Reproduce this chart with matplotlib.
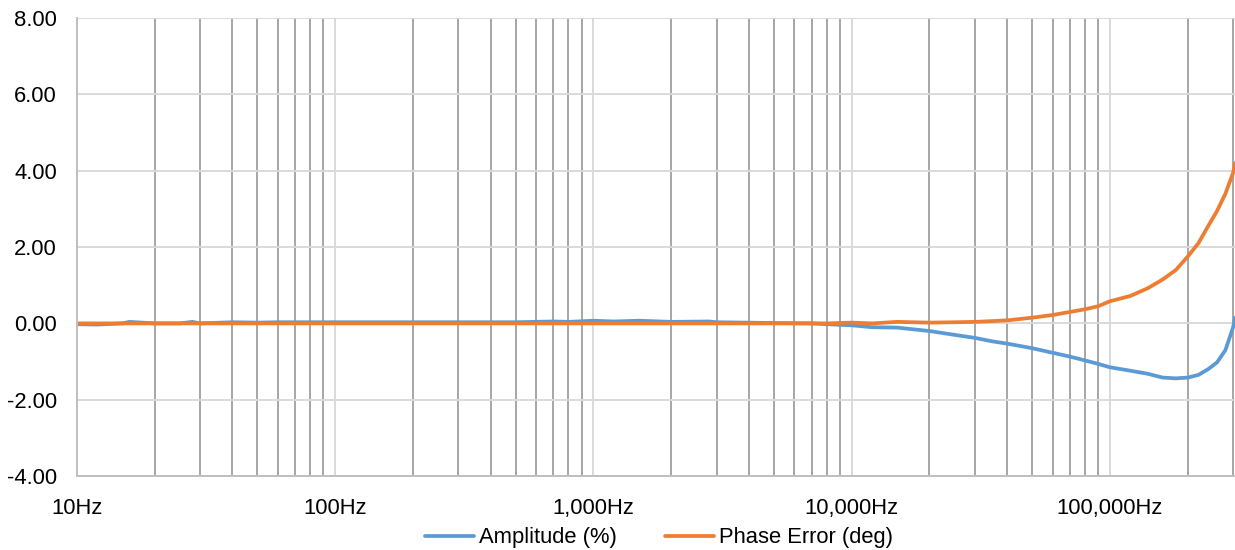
import matplotlib
matplotlib.use('Agg')
import matplotlib.pyplot as plt
from matplotlib.ticker import FixedLocator, FuncFormatter, LogLocator, NullFormatter

plt.rcParams['font.family'] = ['Liberation Sans', 'DejaVu Sans']

# frequency points (Hz)
freqs = [10, 12, 15, 16, 20, 25, 28, 30, 40, 50, 60, 80, 100, 150, 200, 300, 500, 700,
         800, 1000, 1200, 1500, 2000, 2800, 3000, 5000, 7000, 8000, 10000, 12000, 15000,
         20000, 25000, 30000, 35000, 40000, 50000, 60000, 70000, 80000, 90000, 100000,
         120000, 140000, 160000, 180000, 200000, 220000, 240000, 260000, 280000, 300000, 305000]

amplitude = [-0.02, -0.03, 0.0, 0.04, 0.0, 0.0, 0.04, 0.0, 0.03, 0.02, 0.03, 0.03, 0.03,
             0.03, 0.03, 0.03, 0.03, 0.05, 0.04, 0.07, 0.05, 0.07, 0.04, 0.05, 0.03, 0.01,
             0.0, -0.02, -0.05, -0.1, -0.11, -0.2, -0.3, -0.38, -0.47, -0.53, -0.65, -0.77,
             -0.87, -0.97, -1.06, -1.15, -1.24, -1.32, -1.42, -1.44, -1.42, -1.35, -1.2,
             -1.02, -0.7, -0.1, 0.15]

phase = [0.0, 0.0, 0.0, 0.0, 0.0, 0.0, 0.0, 0.0, 0.0, 0.0, 0.0, 0.0, 0.0, 0.0, 0.0, 0.0,
         0.0, 0.0, 0.0, 0.0, 0.0, 0.0, 0.0, 0.0, 0.0, 0.0, 0.0, 0.0, 0.02, 0.0, 0.04, 0.02,
         0.03, 0.04, 0.06, 0.08, 0.15, 0.22, 0.3, 0.37, 0.45, 0.58, 0.72, 0.92, 1.15, 1.4,
         1.75, 2.1, 2.55, 2.95, 3.4, 3.95, 4.2]

major_ticks = [10, 100, 1000, 10000, 100000]
y_ticks = [-4, -2, 0, 2, 4, 6, 8]

fs = 15.8

fig = plt.figure(figsize=(12.35, 5.5), dpi=100)
ax = fig.add_axes([0.0623, 0.1345, 0.9377, 0.8325])

ax.plot(freqs, amplitude, color='#5B9BD5', linewidth=2.7, label='Amplitude (%)',
        solid_capstyle='round')
ax.plot(freqs, phase, color='#ED7D31', linewidth=2.7, label='Phase Error (deg)',
        solid_capstyle='round')

ax.set_xscale('log')
ax.set_xlim(10, 305000)
ax.set_ylim(-4, 8)

ax.xaxis.set_major_locator(FixedLocator(major_ticks))
ax.xaxis.set_major_formatter(FuncFormatter(lambda v, p: '{:,.0f}Hz'.format(v)))
ax.xaxis.set_minor_locator(LogLocator(base=10, subs=range(2, 10)))
ax.xaxis.set_minor_formatter(NullFormatter())
ax.set_yticks(y_ticks)
ax.yaxis.set_major_formatter(FuncFormatter(lambda v, p: '{:.2f}'.format(v)))

ax.grid(True, which='minor', axis='x', color='#a6a6a6', linewidth=1.4)
ax.grid(True, which='major', axis='x', color='#d9d9d9', linewidth=1.4)
ax.grid(True, which='major', axis='y', color='#d9d9d9', linewidth=1.4)
ax.set_axisbelow(True)

ax.tick_params(axis='both', which='both', length=0, labelsize=fs, colors='black')
ax.tick_params(axis='x', pad=15.5)
ax.tick_params(axis='y', pad=14.4)

for side in ['top', 'right']:
    ax.spines[side].set_visible(False)
for side in ['left', 'bottom']:
    ax.spines[side].set_color('#bfbfbf')
    ax.spines[side].set_linewidth(1.4)

fig.legend(loc='center', bbox_to_anchor=(0.5335, 0.022), ncol=2, frameon=False,
           fontsize=fs, handlelength=2.23, columnspacing=2.2, handletextpad=0.22)

fig.savefig('out.png', dpi=100)
